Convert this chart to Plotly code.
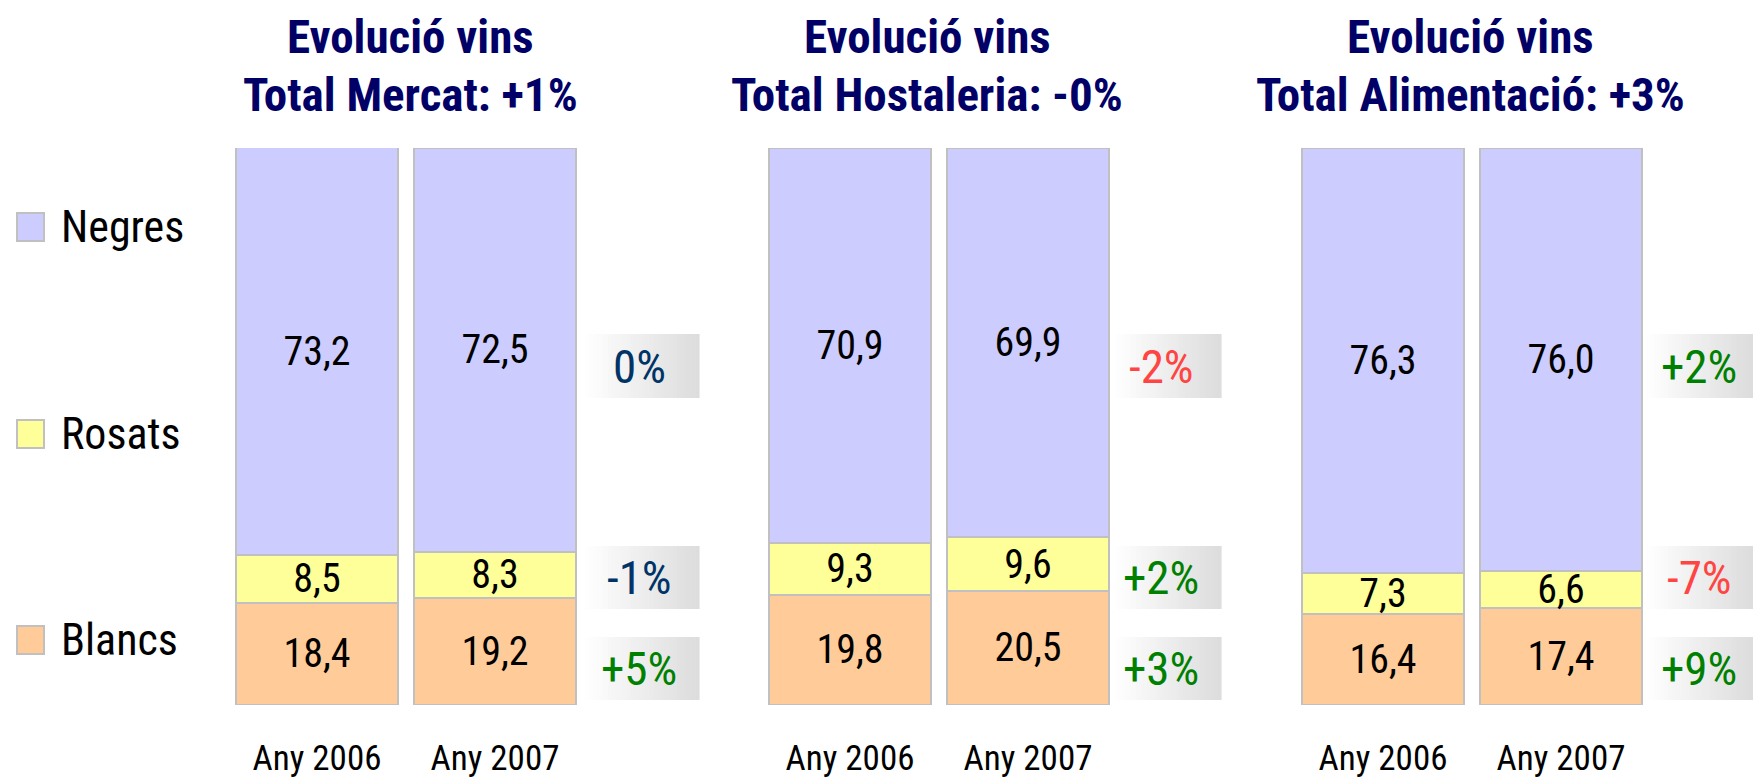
import plotly.graph_objects as go

# ---------------- data ----------------
years = ["Any 2006", "Any 2007"]
series = ["Blancs", "Rosats", "Negres"]
colors = {"Blancs": "#ffcc99", "Rosats": "#ffff99", "Negres": "#ccccff"}

mercat_blancs = [18.4, 19.2]
mercat_rosats = [8.5, 8.3]
mercat_negres = [73.2, 72.5]

hostaleria_blancs = [19.8, 20.5]
hostaleria_rosats = [9.3, 9.6]
hostaleria_negres = [70.9, 69.9]

alimentacio_blancs = [16.4, 17.4]
alimentacio_rosats = [7.3, 6.6]
alimentacio_negres = [76.3, 76.0]

title_line1 = "Evolució vins"
panel_titles = ["Total Mercat: +1%", "Total Hostaleria: -0%", "Total Alimentació: +3%"]

# change labels (Blancs, Rosats, Negres)
mercat_pct = ["+5%", "-1%", "0%"]
hostaleria_pct = ["+3%", "+2%", "-2%"]
alimentacio_pct = ["+9%", "-7%", "+2%"]
mercat_pct_colors = ["#008000", "#003366", "#003366"]
hostaleria_pct_colors = ["#008000", "#008000", "#ff4444"]
alimentacio_pct_colors = ["#008000", "#ff4444", "#008000"]

panels = [
    dict(vals=[mercat_blancs, mercat_rosats, mercat_negres], pct=mercat_pct, pcol=mercat_pct_colors),
    dict(vals=[hostaleria_blancs, hostaleria_rosats, hostaleria_negres], pct=hostaleria_pct, pcol=hostaleria_pct_colors),
    dict(vals=[alimentacio_blancs, alimentacio_rosats, alimentacio_negres], pct=alimentacio_pct, pcol=alimentacio_pct_colors),
]

# ---------------- layout geometry (pixels) ----------------
W, H = 1753, 779
def xp(x): return x / W
def yp(y): return 1 - y / H

panel_px = [(228, 584), (761, 1117), (1294, 1650)]
title_cx = [410, 927, 1470]
box_left = [585, 1115, 1647]
box_w = [114, 106, 106]
pct_cx = [639, 1161, 1699]
box_rows = {"Negres": (334, 398), "Rosats": (546, 609), "Blancs": (637, 700)}
legend_y = {"Negres": 227, "Rosats": 434, "Blancs": 640}

NARROW = "Roboto Condensed, Liberation Sans Narrow, Arial Narrow, sans-serif"

fig = go.Figure()
shapes = []
annotations = []

for i, p in enumerate(panels):
    ax = "" if i == 0 else str(i + 1)
    for s, v in zip(series, p["vals"]):
        fig.add_trace(go.Bar(
            x=years, y=v, name=s, xaxis="x" + ax, yaxis="y" + ax,
            marker=dict(color=colors[s], line=dict(color="#c0c0c0", width=2)),
            texttemplate="%{y:.1f}", textposition="inside", insidetextanchor="middle",
            textangle=0, textfont=dict(family=NARROW, size=40, color="black"),
            showlegend=False, hoverinfo="skip",
        ))
    dom = [xp(panel_px[i][0]), xp(panel_px[i][1])]
    fig.layout["xaxis" + ax] = dict(
        domain=dom, anchor="y" + ax, showgrid=False, zeroline=False, showline=False,
        ticks="", tickfont=dict(family=NARROW, size=35, color="black"),
        ticklabelstandoff=29, fixedrange=True,
    )
    fig.layout["yaxis" + ax] = dict(
        domain=[yp(705), yp(148)], anchor="x" + ax, range=[0, 100], visible=False, fixedrange=True,
    )
    # titles
    annotations.append(dict(text="<b>%s</b>" % title_line1, x=xp(title_cx[i]), y=yp(36),
                            xref="paper", yref="paper", xanchor="center", yanchor="middle",
                            showarrow=False, font=dict(family=NARROW, size=47, color="#000066")))
    annotations.append(dict(text="<b>%s</b>" % panel_titles[i], x=xp(title_cx[i]), y=yp(94),
                            xref="paper", yref="paper", xanchor="center", yanchor="middle",
                            showarrow=False, font=dict(family=NARROW, size=47, color="#000066")))
    # change boxes with horizontal gradient
    for j, s in enumerate(series):
        y0, y1 = box_rows[s]
        n = 30
        for k in range(n):
            t = (k + 0.5) / n
            g = int(round(255 - (255 - 220) * t))
            x0 = box_left[i] + box_w[i] * k / n
            x1 = box_left[i] + box_w[i] * (k + 1) / n + 0.6
            shapes.append(dict(type="rect", xref="paper", yref="paper",
                               x0=xp(x0), x1=xp(x1), y0=yp(y1), y1=yp(y0),
                               fillcolor="rgb(%d,%d,%d)" % (g, g, g), line=dict(width=0),
                               layer="below"))
        annotations.append(dict(text=p["pct"][j], x=xp(pct_cx[i]), y=yp((y0 + y1) / 2),
                                xref="paper", yref="paper", xanchor="center", yanchor="middle",
                                showarrow=False,
                                font=dict(family=NARROW, size=47, color=p["pcol"][j])))

# legend
for s in series:
    cy = legend_y[s]
    shapes.append(dict(type="rect", xref="paper", yref="paper",
                       x0=xp(17), x1=xp(44), y0=yp(cy + 14), y1=yp(cy - 14),
                       fillcolor=colors[s], line=dict(color="#c0c0c0", width=2)))
    annotations.append(dict(text=s, x=xp(59), y=yp(cy), xref="paper", yref="paper",
                            xanchor="left", yanchor="middle", showarrow=False,
                            font=dict(family=NARROW, size=44, color="black")))

fig.update_layout(
    width=W, height=H, margin=dict(l=0, r=0, t=0, b=0),
    paper_bgcolor="white", plot_bgcolor="rgba(0,0,0,0)",
    barmode="stack", bargap=0.09, separators=",.",
    uniformtext=dict(minsize=40, mode="show"),
    shapes=shapes, annotations=annotations,
)

fig.write_html("out.html", config={"displayModeBar": False},
               post_script="document.body.style.margin='0';")
